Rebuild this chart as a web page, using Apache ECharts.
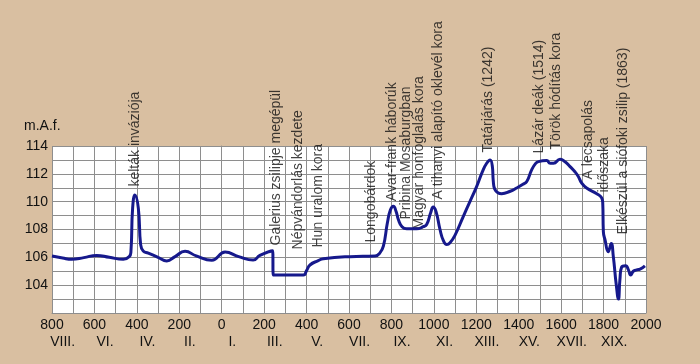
<!DOCTYPE html>
<html>
<head>
<meta charset="utf-8">
<script src="https://cdn.jsdelivr.net/npm/echarts@6/dist/echarts.min.js"></script>
<style>
html,body{margin:0;padding:0;background:#d9bfa1;}
#c{width:700px;height:364px;}
</style>
</head>
<body>
<div id="c"></div>
<script>
// Water level (m.A.f.) by year (negative = BC)
const years = [-800,-750,-707,-650,-589,-530,-464,-436,-428,-420,-409,-393,-382,-370,-346,-300,-259,-220,-173,-120,-47,16,80,148,180,240,243,385,400,416,455,479,605,723,745,762,781,795,809,822,833,850,872,919,950,966,985,997,1010,1029,1045,1061,1076,1100,1139,1170,1202,1230,1249,1265,1276,1280,1287,1320,1360,1390,1420,1438,1461,1480,1493,1532,1548,1564,1595,1620,1642,1665,1681,1697,1720,1768,1790,1796,1799,1807,1822,1836,1846,1859,1870,1877,1885,1904,1917,1928,1940,1956,1972,1995];
const levels = [106.1,105.95,105.86,105.98,106.14,106.0,105.86,106.05,106.4,109.52,110.48,109.52,106.9,106.45,106.3,106.0,105.74,106.05,106.43,106.1,105.79,106.38,106.05,105.8,106.14,106.48,104.73,104.73,105.05,105.45,105.76,105.9,106.05,106.09,106.3,106.8,108.48,109.4,109.67,109.3,108.7,108.2,108.05,108.05,108.2,108.36,109.2,109.62,109.3,108.0,107.2,106.93,107.05,107.6,108.95,110.0,111.1,112.2,112.76,113.0,112.5,111.5,110.9,110.57,110.75,110.98,111.25,111.45,112.29,112.75,112.88,112.95,112.76,112.76,113.05,112.85,112.52,112.15,111.81,111.33,110.98,110.57,110.3,109.93,107.85,107.25,106.4,107.0,106.05,104.14,103.0,104.4,105.3,105.4,105.1,104.73,105.0,105.1,105.15,105.38];

// Event annotations
const eventNames = ["kelták inváziója","Galerius zsilipje megépül","Népvándorlás kezdete","Hun uralom kora","Longobárdok","Avar-frank háborúk","Pribina Mosaburgban","Magyar honfoglalás kora","A tihanyi alapító oklevél kora","Tatárjárás (1242)","Lázár deák (1514)","Török hódítás kora","A lecsapolás","időszaka","Elkészül a siófoki zsilip (1863)"];
const eventYears = [-404,259,361,455,707,806,872,935,1021,1257,1500,1579,1728,1807,1893];
const eventLevels = [111.05,106.82,106.53,106.67,107.03,110.0,108.68,107.97,110.12,113.5,113.43,113.71,111.56,110.62,107.61];

// Century labels
const centuryYears = [-750,-550,-350,-150,50,250,450,650,850,1050,1250,1450,1650,1850];
const centuryLabels = ["VIII.","VI.","IV.","II.","I.","III.","V.","VII.","IX.","XI.","XIII.","XV.","XVII.","XIX."];

const yUnit = "m.A.f.";

const chart = echarts.init(document.getElementById('c'), null, {renderer:'canvas'});
const font = 'Liberation Sans, Arial, Helvetica, sans-serif';
const gridColor = '#8e8e8e';
chart.setOption({
  backgroundColor: '#d9bfa1',
  animation: false,
  textStyle: {fontFamily: font},
  grid: {left: 52, right: 54, top: 146, bottom: 51, show: true, backgroundColor: '#ffffff', borderWidth: 0},
  graphic: [{type:'text', left: 24, top: 119, style:{text: yUnit, font: '14px ' + font, fill:'#111'}}],
  xAxis: [{
    type: 'value', min: -800, max: 2000, interval: 100,
    axisLine: {show: true, lineStyle: {color: gridColor, width: 1}},
    axisTick: {show: false},
    splitLine: {show: true, lineStyle: {color: gridColor, width: 1}},
    axisLabel: {fontSize: 14, color: '#111', margin: 5, fontFamily: font,
      formatter: v => (v % 200 === 0 ? String(Math.abs(v)) : '')}
  },{
    type: 'value', min: -800, max: 2000, position: 'bottom', offset: 18,
    axisLine: {show: false}, axisTick: {show: false}, splitLine: {show: false},
    axisLabel: {fontSize: 14, color: '#111', margin: 4, fontFamily: font,
      customValues: centuryYears,
      formatter: v => { const i = centuryYears.indexOf(v); return i >= 0 ? centuryLabels[i] : ''; }}
  }],
  yAxis: {
    type: 'value', min: 102, max: 114, interval: 1,
    axisLine: {show: true, lineStyle: {color: gridColor, width: 1}},
    axisTick: {show: false},
    splitLine: {show: true, lineStyle: {color: gridColor, width: 1}},
    axisLabel: {fontSize: 14, color: '#111', margin: 4, fontFamily: font,
      formatter: v => (v % 2 === 0 && v > 102 ? String(v) : '')}
  },
  series: [{
    type: 'line', xAxisIndex: 0,
    data: years.map((y, i) => [y, levels[i]]),
    smooth: 0.5, symbol: 'none',
    lineStyle: {color: '#16198c', width: 3}
  },{
    type: 'scatter', xAxisIndex: 0, clip: false,
    data: eventYears.map((y, i) => [y, eventLevels[i], i]),
    symbolSize: 1,
    itemStyle: {color: 'rgba(0,0,0,0)'},
    label: {
      show: true, position: [0, 0], rotate: 90, align: 'left', verticalAlign: 'middle',
      fontSize: 14, color: '#111', fontFamily: font,
      formatter: p => eventNames[p.data[2]]
    }
  }]
});
</script>
</body>
</html>
